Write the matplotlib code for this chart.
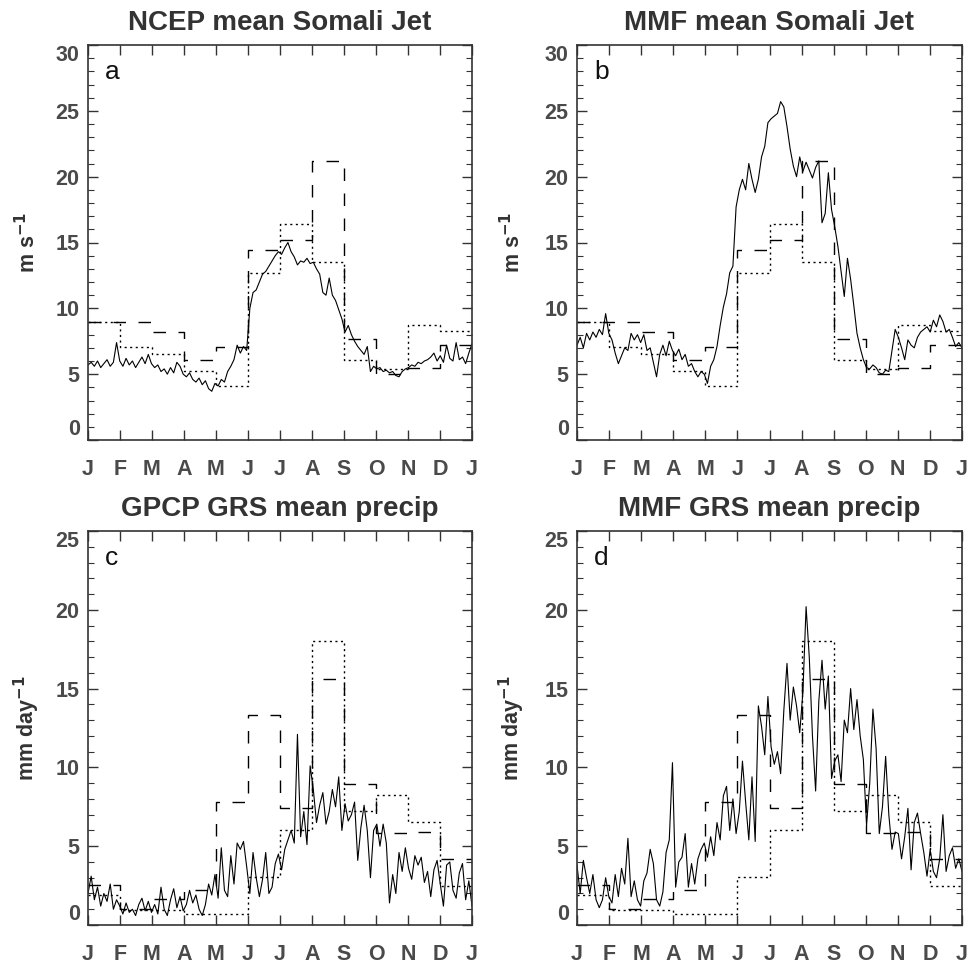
import numpy as np
import matplotlib
matplotlib.use("Agg")
import matplotlib.pyplot as plt

plt.rcParams['font.family'] = ['Liberation Sans', 'DejaVu Sans']

months = ['J', 'F', 'M', 'A', 'M', 'J', 'J', 'A', 'S', 'O', 'N', 'D', 'J']

# Monthly step series (shared by the two top panels and the two bottom panels)
jet_dashed = [9.0, 9.0, 8.2, 6.05, 7.1, 14.4, 15.2, 21.2, 7.65, 5.0, 5.5, 7.25]
jet_dotted = [9.0, 7.1, 6.5, 5.25, 4.1, 12.65, 16.4, 13.5, 6.1, 5.4, 8.75, 8.25]
pr_dashed = [2.55, 1.0, 1.65, 2.25, 7.8, 13.3, 7.4, 15.6, 8.95, 5.85, 5.9, 4.2]
pr_dotted = [1.9, 0.95, 0.95, 0.7, 0.7, 3.05, 6.0, 18.05, 7.25, 8.25, 6.55, 2.5]

# Daily-ish series (about every 3 days)
ncep_jet = [5.7, 5.9, 5.6, 6.0, 5.5, 5.8, 6.1, 5.6, 5.9, 7.4,
            6.0, 5.6, 6.2, 5.7, 6.0, 5.5, 5.9, 6.3, 5.8, 6.5,
            5.8, 5.5, 5.7, 5.2, 5.4, 5.0, 5.5, 5.1, 5.9, 5.6,
            5.0, 4.8, 5.1, 4.6, 4.4, 4.7, 4.2, 4.5, 3.9, 3.7,
            4.3, 4.1, 4.6, 4.4, 5.2, 5.6, 6.1, 7.2, 6.6, 7.1,
            6.8, 10.0, 11.2, 11.4, 12.0, 12.6, 12.8, 13.2, 13.6, 14.0,
            14.3, 14.1, 14.6, 15.0, 14.3, 13.9, 13.3, 13.6, 13.5, 13.8,
            13.4, 13.5, 13.0, 12.6, 11.2, 11.0, 12.3, 11.0, 10.6, 9.9,
            9.2, 8.2, 8.7, 8.0, 7.5, 7.1, 6.8, 6.5, 7.1, 5.2,
            5.6, 5.4, 5.5, 5.2, 5.3, 5.1, 5.2, 4.9, 4.8, 5.2,
            5.4, 5.5, 5.7, 5.6, 5.9, 5.8, 6.0, 6.1, 6.3, 6.6,
            6.0, 6.4, 5.9, 7.2, 6.2, 6.0, 7.4, 6.1, 6.3, 5.8, 6.6, 7.3]

mmf_jet = [7.2, 7.8, 7.0, 8.1, 7.6, 8.2, 7.8, 8.4, 8.0, 9.6,
           8.1, 7.6, 6.6, 5.8, 6.4, 7.0, 6.8, 8.1, 7.6, 8.0,
           7.4, 8.0, 6.8, 7.0, 5.9, 4.8, 6.5, 7.2, 6.4, 7.5,
           6.8, 6.4, 6.9, 6.1, 6.5, 5.6, 5.8, 5.2, 4.8, 5.2,
           5.0, 4.3, 5.6, 6.1, 7.1, 8.7, 10.1, 11.1, 12.7, 13.2,
           17.7, 19.0, 19.8, 19.0, 21.0, 19.8, 18.8, 19.8, 21.5, 22.3,
           24.1, 24.4, 24.6, 24.8, 25.7, 25.3, 23.8, 22.1, 20.8, 20.0,
           21.5, 20.4, 21.1, 20.5, 19.9, 20.7, 21.2, 16.5, 17.2, 20.3,
           17.5, 16.2, 14.7, 12.8, 10.9, 13.8, 12.2, 10.2, 8.1, 7.0,
           6.1, 5.5, 5.4, 5.7, 5.5, 5.1, 5.0, 5.3, 5.2, 6.8,
           8.4, 7.8, 7.0, 6.1, 7.6, 7.2, 7.0, 7.8, 8.2, 8.4,
           8.6, 8.2, 9.1, 8.6, 9.5, 9.0, 8.2, 8.4, 7.8, 7.1, 7.4, 7.0]

gpcp_pr = [2.0, 3.1, 1.6, 2.4, 1.2, 2.0, 1.5, 2.6, 1.0, 1.6,
           1.2, 0.7, 1.4, 0.8, 1.0, 0.6, 1.3, 1.7, 0.9, 1.5,
           0.8, 1.3, 0.7, 2.4, 1.0, 0.6, 1.6, 2.3, 1.1, 1.8,
           0.9, 1.3, 2.2, 1.4, 1.9, 1.0, 0.6, 1.3, 2.6, 1.9,
           3.2, 1.7, 4.9, 2.2, 1.8, 4.4, 2.6, 5.2, 4.8, 5.3,
           3.7, 2.0, 4.6, 3.0, 1.8, 2.9, 4.6, 2.0, 2.4, 3.9,
           4.5, 3.5, 4.8, 5.4, 6.0, 5.2, 12.1, 5.6, 7.2, 5.1,
           10.1, 8.6, 6.5, 7.6, 8.4, 6.4, 7.2, 8.6, 7.5, 9.4,
           6.0, 7.7, 6.6, 7.0, 7.8, 4.1, 6.2, 7.6, 6.0, 3.0,
           6.0, 6.4, 5.0, 6.4, 5.2, 1.4, 3.2, 2.0, 4.6, 3.4,
           4.9, 3.6, 2.9, 4.4, 3.8, 4.3, 2.7, 3.4, 1.8, 3.5,
           4.1, 2.6, 1.2, 3.8, 4.0, 2.2, 1.7, 3.3, 3.9, 1.6, 2.8, 1.2]

mmf_pr = [3.8, 2.0, 4.1, 3.0, 2.0, 3.2, 1.6, 1.1, 1.6, 3.0,
          1.8, 1.4, 3.2, 1.8, 3.6, 2.6, 5.5, 1.8, 2.8, 1.6,
          1.2, 2.8, 3.3, 4.8, 3.9, 1.6, 1.2, 2.1, 4.6, 5.4,
          10.3, 2.4, 4.0, 4.3, 5.8, 2.4, 3.9, 2.6, 4.2, 4.8,
          5.2, 4.3, 5.6, 4.4, 6.5, 5.4, 8.2, 8.8, 6.0, 8.0,
          5.8, 7.2, 10.4, 7.8, 5.4, 9.4, 5.3, 13.9, 12.6, 10.8,
          14.5, 11.3, 10.2, 11.0, 9.6, 13.6, 16.6, 13.0, 15.1, 13.9,
          12.2, 14.8, 20.2, 17.0, 12.0, 8.5, 14.2, 16.8, 13.7, 15.8,
          9.3, 10.4, 10.8, 9.1, 13.0, 12.2, 15.0, 12.4, 14.3, 12.0,
          10.5, 6.3, 9.0, 13.7, 11.2, 5.8, 7.5, 10.7, 7.0, 4.8,
          5.9, 5.8, 4.2, 5.6, 7.4, 3.5, 6.5, 7.1, 5.8, 4.6,
          3.1, 4.8, 3.4, 3.0, 4.2, 7.0, 3.4, 4.4, 4.9, 3.6, 4.2, 3.4]

titles = ['NCEP mean Somali Jet', 'MMF mean Somali Jet',
          'GPCP GRS mean precip', 'MMF GRS mean precip']
letters = ['a', 'b', 'c', 'd']

W, H = 967, 965
fig = plt.figure(figsize=(W / 100, H / 100), dpi=100)

def rect(x0, y0, x1, y1):
    return [x0 / W, 1 - y1 / H, (x1 - x0) / W, (y1 - y0) / H]

axes = [fig.add_axes(rect(88, 45, 472, 440)),
        fig.add_axes(rect(577, 45, 962, 440)),
        fig.add_axes(rect(88, 531, 472, 925)),
        fig.add_axes(rect(577, 531, 962, 925))]

panels = [(ncep_jet, jet_dashed, jet_dotted, 30, 'm s$^{\\mathbf{-1}}$'),
          (mmf_jet, jet_dashed, jet_dotted, 30, 'm s$^{\\mathbf{-1}}$'),
          (gpcp_pr, pr_dashed, pr_dotted, 25, 'mm day$^{\\mathbf{-1}}$'),
          (mmf_pr, pr_dashed, pr_dotted, 25, 'mm day$^{\\mathbf{-1}}$')]
label_x = [-0.125, -0.135, -0.12, -0.13]

edges = np.arange(13)
grey = '#4a4a4a'
for i, (ax, (daily, dsh, dot, ymax, ylab)) in enumerate(zip(axes, panels)):
    xd = np.linspace(0, 12, len(daily))
    ax.plot(xd, daily, color='black', lw=0.8)
    ax.step(edges, list(dot) + [dot[-1]], where='post', color='black',
            lw=1.0, linestyle=(0, (1.5, 2.5)))
    ax.step(edges, list(dsh) + [dsh[-1]], where='post', color='black',
            lw=1.0, linestyle=(0, (9, 9)))
    ax.set_xlim(0, 12)
    ax.set_ylim(0, ymax)
    ax.set_xticks(edges)
    ax.set_xticklabels(months)
    ax.set_yticks(np.arange(0, ymax + 1, 5))
    ax.set_yticks(np.arange(0, ymax + 1, 1), minor=True)
    ax.tick_params(axis='both', which='major', direction='in', top=True,
                   right=True, length=7, width=1.0, color='#333333')
    ax.tick_params(axis='y', which='minor', direction='in', left=True,
                   right=True, length=4, width=0.8, color='#333333')
    ax.tick_params(axis='x', which='major', pad=14, labelsize=15.5,
                   labelcolor=grey)
    ax.tick_params(axis='y', which='major', pad=6, labelsize=15.5,
                   labelcolor=grey)
    for lab in ax.get_xticklabels() + ax.get_yticklabels():
        lab.set_fontweight('bold')
    ylabs = ax.get_yticklabels()
    ylabs[0].set_va('bottom')
    ylabs[-1].set_va('top')
    for sp in ax.spines.values():
        sp.set_color('#333333')
        sp.set_linewidth(1.2)
    ax.set_title(titles[i], fontsize=20, fontweight='bold', color='#333333',
                 pad=11)
    ax.text(0.045, 0.914, letters[i], transform=ax.transAxes, fontsize=19,
            ha='left', va='baseline', color='#111111')
    ax.set_ylabel(ylab, fontsize=15.5, fontweight='bold', color='#333333')
    ax.yaxis.set_label_coords(label_x[i], 0.5)

fig.savefig('out.png', dpi=100)
